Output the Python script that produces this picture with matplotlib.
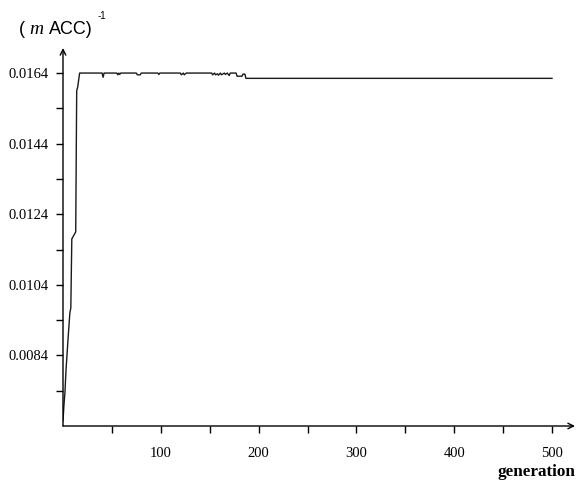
import matplotlib.pyplot as plt

# best-of-generation fitness, (m ACC)^-1
generation = [0, 1, 2, 3, 5, 7, 8, 9, 12, 13, 14, 15, 17,
              40, 41, 42, 55, 56, 57, 58, 59, 60, 75, 76, 79, 80,
              97, 98, 99, 120, 121, 123, 124, 126, 127,
              152, 153, 155, 156, 158, 159, 161, 162, 165, 166, 168, 170, 171,
              177, 178, 183, 184, 186, 187, 500]
fitness = [0.00655, 0.00700, 0.00735, 0.00795, 0.00880, 0.00960, 0.00975, 0.01170, 0.01185, 0.01190, 0.01590, 0.01600, 0.01640,
           0.01640, 0.01628, 0.01640, 0.01640, 0.01635, 0.01640, 0.01636, 0.01640, 0.01640, 0.01640, 0.01635, 0.01635, 0.01640,
           0.01640, 0.01636, 0.01640, 0.01640, 0.01635, 0.01640, 0.01635, 0.01640, 0.01640,
           0.01640, 0.01635, 0.01640, 0.01635, 0.01638, 0.01634, 0.01640, 0.01635, 0.01640, 0.01636, 0.01640, 0.01633, 0.01640,
           0.01640, 0.01631, 0.01631, 0.01637, 0.01637, 0.01625, 0.01625]

yticks_major = [0.0084, 0.0104, 0.0124, 0.0144, 0.0164]
yticks_minor = [0.0074, 0.0094, 0.0114, 0.0134, 0.0154]
xticks_major = [100, 200, 300, 400, 500]
xticks_minor = [50, 150, 250, 350, 450]

serif = 'Liberation Serif'
sans = 'Liberation Sans'

fig = plt.figure(figsize=(5.77, 4.82), dpi=100)
ax = fig.add_axes([63 / 577, 56 / 482, 512 / 577, 378 / 482])

ax.plot(generation, fitness, color='#1a1a1a', lw=1.0)

ax.set_xlim(0, 523.5)
ax.set_ylim(0.0064, 0.01711)

for s in ax.spines.values():
    s.set_visible(False)

arrow = dict(arrowstyle='->', lw=1.0, color='black', shrinkA=0, shrinkB=0,
             mutation_scale=10)
ax.annotate('', xy=(1, 0), xytext=(0, 0), xycoords='axes fraction', arrowprops=arrow)
ax.annotate('', xy=(0, 1), xytext=(0, 0), xycoords='axes fraction', arrowprops=arrow)

ax.set_yticks(yticks_major)
ax.set_yticklabels(['%.4f' % v for v in yticks_major])
ax.set_yticks(yticks_minor, minor=True)
ax.set_xticks(xticks_major)
ax.set_xticks(xticks_minor, minor=True)

ax.tick_params(axis='y', which='both', direction='out', length=5, width=1,
               pad=5.5, labelsize=10.5)
ax.tick_params(axis='x', which='both', direction='out', length=5, width=1,
               pad=10, labelsize=10.5)
for lab in ax.get_xticklabels() + ax.get_yticklabels():
    lab.set_fontfamily(serif)

# axis titles
ty = 1 - 29 / 482
fig.text(19 / 577, ty, '(', fontsize=13, family=sans, va='center')
fig.text(29 / 577, ty, 'm', fontsize=14, family=serif, style='italic', va='center')
fig.text(49 / 577, ty, 'ACC)', fontsize=13, family=sans, va='center')
fig.text(98 / 577, 1 - 16 / 482, '-1', fontsize=7, family=sans, va='center')
fig.text(575 / 577, 1 - 472 / 482, 'generation', fontsize=12.3, family=serif,
         weight='bold', ha='right', va='center')

fig.savefig('out.png', dpi=100)
